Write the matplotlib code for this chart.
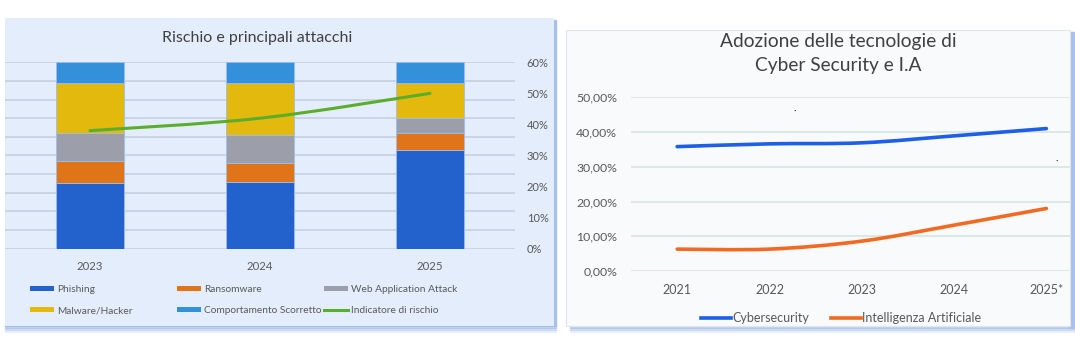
import matplotlib
matplotlib.use("Agg")
import matplotlib.pyplot as plt
import numpy as np
from matplotlib.path import Path
from matplotlib.patches import PathPatch, Rectangle, Patch
from matplotlib.lines import Line2D
from matplotlib.ticker import FuncFormatter, MultipleLocator

plt.rcParams['font.family'] = ['Lato', 'DejaVu Sans']

# ---------------- data ----------------
years_left = ["2023", "2024", "2025"]
phishing = [35, 36, 53]
ransomware = [12, 10, 9]
web_app = [15, 15, 8]
malware = [27, 28, 19]
comportamento = [11, 11, 11]
risk_indicator = [38, 42, 50]

series_names = ["Phishing", "Ransomware", "Web Application Attack",
                "Malware/Hacker", "Comportamento Scorretto"]
line_name = "Indicatore di rischio"

years_right = ["2021", "2022", "2023", "2024", "2025*"]
cybersecurity = [35.8, 36.6, 36.9, 38.9, 41.0]
intelligenza = [6.3, 6.3, 8.6, 13.2, 18.0]
right_names = ["Cybersecurity", "Intelligenza Artificiale"]

# ---------------- style ----------------
W, H = 1075, 348
bar_colors = ["#2362cc", "#e07418", "#9c9fa9", "#e3b90e", "#3490da"]
green = "#5aae2c"
blue_line = "#1d5fe6"
orange_line = "#f26a22"
txt = "#595959"
title_col = "#404040"


def fx(px):
    return px / W


def fy(py):
    return 1 - py / H


def smooth_path(xs, ys):
    xs = list(map(float, xs)); ys = list(map(float, ys))
    n = len(xs)
    px = [xs[0]] + xs + [xs[-1]]
    py = [ys[0]] + ys + [ys[-1]]
    verts = [(xs[0], ys[0])]
    codes = [Path.MOVETO]
    for i in range(1, n):
        p0 = (px[i - 1], py[i - 1]); p1 = (px[i], py[i])
        p2 = (px[i + 1], py[i + 1]); p3 = (px[i + 2], py[i + 2])
        c1 = (p1[0] + (p2[0] - p0[0]) / 6, p1[1] + (p2[1] - p0[1]) / 6)
        c2 = (p2[0] - (p3[0] - p1[0]) / 6, p2[1] - (p3[1] - p1[1]) / 6)
        verts += [c1, c2, p2]
        codes += [Path.CURVE4] * 3
    return Path(verts, codes)


fig = plt.figure(figsize=(W / 100, H / 100), dpi=100)
fig.patch.set_facecolor("white")

# ---------- panel backgrounds ----------
for k, a in enumerate([0.55, 0.4, 0.25, 0.12]):
    fig.patches.append(Rectangle((fx(5), fy(326 + 2 * k)), fx(551), (2 / H),
                                 transform=fig.transFigure, color="#8fb0e6",
                                 alpha=a, zorder=0))
fig.patches.append(Rectangle((fx(553), fy(326)), fx(3), (306 / H),
                             transform=fig.transFigure, color="#a9c0ea", zorder=0))
fig.patches.append(Rectangle((fx(5), fy(326)), fx(549), (308 / H),
                             transform=fig.transFigure, facecolor="#e4edfb",
                             edgecolor="none", zorder=0.5))
for k, a in enumerate([0.55, 0.4, 0.25, 0.12]):
    fig.patches.append(Rectangle((fx(570), fy(326 + 2 * k)), fx(505), (2 / H),
                                 transform=fig.transFigure, color="#8fb0e6",
                                 alpha=a, zorder=0))
fig.patches.append(Rectangle((fx(1069), fy(328)), fx(6), (296 / H),
                             transform=fig.transFigure, color="#a9c0ea", zorder=0))
fig.patches.append(Rectangle((fx(566), fy(326)), fx(504), (296 / H),
                             transform=fig.transFigure, facecolor="#f8fafc",
                             edgecolor="#dfe6ee", linewidth=0.8, zorder=0.5))

# ---------- left chart ----------
axL = fig.add_axes([fx(5), fy(248.7), fx(510), 186.4 / H])
axL.set_zorder(2)
axL.set_facecolor("none")
x = np.arange(len(years_left))
bottom = np.zeros(len(years_left))
for vals, col, name in zip([phishing, ransomware, web_app, malware, comportamento],
                           bar_colors, series_names):
    axL.bar(x, vals, width=0.40, bottom=bottom, color=col, label=name,
            edgecolor="#9dbdf0", linewidth=0.6, zorder=3)
    bottom += np.array(vals)
axL.set_xlim(-0.5, len(years_left) - 0.5)
axL.set_ylim(0, 100)
axL.yaxis.set_major_locator(MultipleLocator(10))
axL.grid(axis="y", color="#c8d2e2", linewidth=1.3, zorder=0)
axL.set_axisbelow(True)
axL.set_xticks(x)
axL.set_xticklabels(years_left)
axL.tick_params(axis="x", length=0, pad=8.5, labelsize=8.2, labelcolor=txt)
for s in axL.spines.values():
    s.set_visible(False)

axR2 = axL.twinx()
axR2.set_zorder(3)
axR2.set_facecolor("none")
axL.tick_params(axis="y", left=False, right=False, labelleft=False, labelright=False)
axR2.set_ylim(0, 60)
axR2.yaxis.set_major_locator(MultipleLocator(10))
axR2.yaxis.set_major_formatter(FuncFormatter(lambda v, p: f"{v:.0f}%"))
axR2.tick_params(axis="y", left=False, right=False, length=0, pad=8.5,
                 labelsize=8, labelcolor=txt)
for lab in axR2.get_yticklabels():
    lab.set_horizontalalignment("left")
for s in axR2.spines.values():
    s.set_visible(False)
axR2.add_patch(PathPatch(smooth_path(x, risk_indicator), facecolor="none",
                         edgecolor=green, linewidth=2.2, capstyle="round", zorder=5))

fig.text(fx(257), fy(38), "Rischio e principali attacchi", ha="center", va="center",
         fontsize=11.5, color=title_col)

handles = [Patch(facecolor=c) for c in bar_colors]
green_handle = Line2D([], [], color=green, linewidth=2.2)
cols = [([handles[0], handles[3]], [series_names[0], series_names[3]], 30),
        ([handles[1], handles[4]], [series_names[1], series_names[4]], 177),
        ([handles[2], green_handle], [series_names[2], line_name], 324)]
for hs, ls, xp in cols:
    fig.legend(hs, ls, loc="upper left", bbox_to_anchor=(fx(xp), fy(285)),
               frameon=False, fontsize=7.3, handlelength=2.4, handleheight=0.5,
               handletextpad=0.3, labelspacing=1.2, borderpad=0,
               borderaxespad=0, labelcolor=txt)

# ---------- right chart ----------
axB = fig.add_axes([fx(631), fy(271), fx(439), 173.7 / H])
axB.set_zorder(2)
axB.set_facecolor("none")
xr = np.arange(len(years_right))
axB.set_xlim(-0.5, 4.256)
axB.set_ylim(0, 50)
axB.yaxis.set_major_locator(MultipleLocator(10))
axB.yaxis.set_major_formatter(FuncFormatter(lambda v, p: f"{v:.2f}%".replace(".", ",")))
axB.grid(axis="y", color="#d2e3e3", linewidth=1.1, zorder=0)
axB.set_axisbelow(True)
axB.set_xticks(xr)
axB.set_xticklabels(years_right)
axB.tick_params(axis="x", length=0, pad=9, labelsize=9, labelcolor=txt)
axB.tick_params(axis="y", length=0, pad=10, labelsize=8.8, labelcolor=txt)
for s in axB.spines.values():
    s.set_visible(False)
axB.add_patch(PathPatch(smooth_path(xr, cybersecurity), facecolor="none",
                        edgecolor=blue_line, linewidth=2.6, capstyle="round", zorder=4))
axB.add_patch(PathPatch(smooth_path(xr, intelligenza), facecolor="none",
                        edgecolor=orange_line, linewidth=2.6, capstyle="round", zorder=4))

fig.text(fx(838), fy(41), "Adozione delle tecnologie di", ha="center", va="center",
         fontsize=13.8, color=title_col)
fig.text(fx(838), fy(66), "Cyber Security e I.A", ha="center", va="center",
         fontsize=13.8, color=title_col)

rh = [Line2D([], [], color=blue_line, linewidth=2.6),
      Line2D([], [], color=orange_line, linewidth=2.6)]
fig.legend(rh, right_names, loc="center", bbox_to_anchor=(fx(841), fy(318)),
           ncol=2, frameon=False, fontsize=9, handlelength=2.4, handletextpad=0.15,
           columnspacing=1.7, borderpad=0, labelcolor=txt)

fig.text(fx(795), fy(111), "·", ha="center", va="center", fontsize=7, color="#333333")
fig.text(fx(1057), fy(161), "·", ha="center", va="center", fontsize=7, color="#333333")

fig.savefig("out.png", dpi=100, facecolor="white")
